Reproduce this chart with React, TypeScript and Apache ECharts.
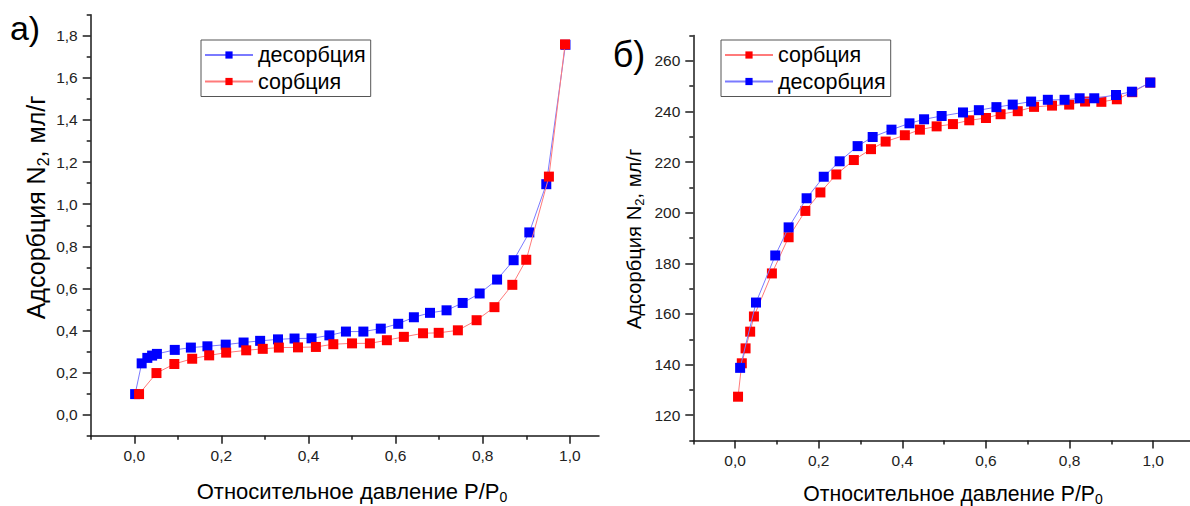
import React, { useEffect, useRef } from "react";
import * as echarts from "echarts";

// ---- Chart a) ----
const aDesX = [0.002, 0.017, 0.030, 0.041, 0.052, 0.093, 0.130, 0.168, 0.210, 0.251, 0.289, 0.330, 0.368, 0.407, 0.448, 0.486, 0.526, 0.566, 0.606, 0.642, 0.679, 0.717, 0.754, 0.793, 0.833, 0.871, 0.907, 0.946, 0.990];
const aDesY = [0.098, 0.244, 0.270, 0.281, 0.289, 0.308, 0.319, 0.325, 0.333, 0.343, 0.351, 0.358, 0.362, 0.363, 0.377, 0.395, 0.395, 0.409, 0.432, 0.463, 0.484, 0.496, 0.531, 0.576, 0.642, 0.734, 0.866, 1.095, 1.757];
const aSorX = [0.011, 0.051, 0.092, 0.133, 0.172, 0.211, 0.257, 0.295, 0.332, 0.376, 0.417, 0.457, 0.500, 0.541, 0.580, 0.619, 0.663, 0.699, 0.743, 0.786, 0.827, 0.868, 0.900, 0.952, 0.989];
const aSorY = [0.098, 0.198, 0.241, 0.266, 0.282, 0.295, 0.306, 0.313, 0.319, 0.320, 0.322, 0.335, 0.339, 0.339, 0.354, 0.370, 0.387, 0.389, 0.401, 0.449, 0.511, 0.617, 0.736, 1.131, 1.759];

// ---- Chart б) ----
const bSorX = [0.007, 0.016, 0.025, 0.036, 0.045, 0.088, 0.128, 0.168, 0.204, 0.242, 0.284, 0.325, 0.360, 0.406, 0.442, 0.482, 0.521, 0.560, 0.600, 0.635, 0.676, 0.715, 0.758, 0.799, 0.837, 0.876, 0.913, 0.950, 0.993];
const bSorY = [127.3, 140.5, 146.4, 153.0, 159.0, 176.0, 190.3, 200.7, 208.0, 215.1, 220.8, 225.1, 228.1, 230.6, 232.8, 234.1, 235.0, 236.5, 237.4, 238.9, 240.1, 241.8, 242.3, 242.7, 243.9, 243.8, 244.8, 247.6, 251.4];
const bDesX = [0.012, 0.050, 0.096, 0.128, 0.171, 0.212, 0.250, 0.293, 0.329, 0.374, 0.417, 0.452, 0.494, 0.545, 0.583, 0.625, 0.664, 0.708, 0.748, 0.788, 0.824, 0.859, 0.911, 0.949, 0.993];
const bDesY = [138.7, 164.5, 183.1, 194.2, 205.7, 214.2, 220.3, 226.3, 229.9, 232.8, 235.3, 236.9, 238.2, 239.6, 240.5, 241.7, 242.7, 243.9, 244.6, 244.6, 245.2, 245.2, 246.5, 247.8, 251.4];

// ---- Ticks ----
const xMajor = [0, 0.2, 0.4, 0.6, 0.8, 1.0];
const xMinor = [-0.1, 0.1, 0.3, 0.5, 0.7, 0.9];
const aYMajor = [0, 0.2, 0.4, 0.6, 0.8, 1.0, 1.2, 1.4, 1.6, 1.8];
const aYMinor = [-0.1, 0.1, 0.3, 0.5, 0.7, 0.9, 1.1, 1.3, 1.5, 1.7, 1.9];
const bYMajor = [120, 140, 160, 180, 200, 220, 240, 260];
const bYMinor = [110, 130, 150, 170, 190, 210, 230, 250, 270];

const SOR = "сорбция";
const DES = "десорбция";
const FONT = "Liberation Sans, Arial, sans-serif";
const AXIS_COLOR = "#1a1a1a";

const zip = (xs: number[], ys: number[]) => xs.map((x, i) => [x, ys[i]]);
const comma = (v: number) => v.toFixed(1).replace(".", ",");

function majorAxis(dim: "x" | "y", gridIndex: number, min: number, max: number, ticks: number[], fmt: (v: number) => string, margin: number) {
  return {
    type: "value",
    gridIndex,
    position: dim === "x" ? "bottom" : "left",
    min,
    max,
    splitLine: { show: false },
    axisLine: { show: true, onZero: false, lineStyle: { color: AXIS_COLOR, width: 1.5 } },
    axisTick: { show: true, inside: false, length: 8, customValues: ticks, lineStyle: { color: AXIS_COLOR, width: 1.5 } },
    axisLabel: {
      show: true,
      customValues: ticks,
      formatter: (v: number) => fmt(v),
      margin,
      fontFamily: FONT,
      fontSize: 15.5,
      color: "#222",
    },
  };
}

function minorAxis(dim: "x" | "y", gridIndex: number, min: number, max: number, ticks: number[]) {
  return {
    type: "value",
    gridIndex,
    position: dim === "x" ? "bottom" : "left",
    offset: 0,
    min,
    max,
    splitLine: { show: false },
    axisLine: { show: false, onZero: false },
    axisTick: { show: true, inside: false, length: 4, customValues: ticks, lineStyle: { color: AXIS_COLOR, width: 1.5 } },
    axisLabel: { show: false },
  };
}

function series(name: string, xs: number[], ys: number[], xi: number, yi: number, blue: boolean, z: number) {
  return {
    type: "line",
    name,
    xAxisIndex: xi,
    yAxisIndex: yi,
    data: zip(xs, ys),
    symbol: "rect",
    symbolSize: 10,
    z,
    itemStyle: { color: blue ? "#0000ff" : "#ff0000" },
    lineStyle: { color: blue ? "#7a7aff" : "#ff7a7a", width: 1 },
    emphasis: { disabled: true },
  };
}

function titleText(text: string, x: number, y: number, rotate: boolean, size: number) {
  const subSize = Math.round(size * 0.64);
  return {
    type: "text",
    x,
    y,
    rotation: rotate ? Math.PI / 2 : 0,
    style: {
      text,
      fontFamily: FONT,
      fontSize: size,
      lineHeight: Math.round(size * 1.05),
      fill: "#000",
      align: "center",
      verticalAlign: "middle",
      rich: {
        sub: {
          fontSize: subSize,
          fontFamily: FONT,
          fill: "#000",
          verticalAlign: "middle",
          lineHeight: subSize,
          padding: [Math.round(size * 0.55), 0, 0, 0],
        },
      },
    },
  };
}

export default function App() {
  const ref = useRef<HTMLDivElement>(null);
  useEffect(() => {
    if (!ref.current) return;
    const chart = echarts.init(ref.current, null, { renderer: "svg" });
    const legendCommon = {
      orient: "vertical",
      itemWidth: 48,
      itemHeight: 9,
      itemGap: 4.5,
      padding: [4, 5, 4, 3],
      borderColor: "#555",
      borderWidth: 1,
      backgroundColor: "#fff",
      selectedMode: false,
      textStyle: { fontFamily: FONT, fontSize: 21.5, lineHeight: 22, color: "#000" },
    };
    chart.setOption({
      animation: false,
      backgroundColor: "#fff",
      grid: [
        { left: 90.7, top: 14.7, width: 508.3, height: 421.1, containLabel: false },
        { left: 693.3, top: 35.5, width: 496.7, height: 405, containLabel: false },
      ],
      xAxis: [
        majorAxis("x", 0, -0.1, 1.067, xMajor, comma, 12),
        minorAxis("x", 0, -0.1, 1.067, xMinor),
        majorAxis("x", 1, -0.1, 1.088, xMajor, comma, 12),
        minorAxis("x", 1, -0.1, 1.088, xMinor),
      ],
      yAxis: [
        majorAxis("y", 0, -0.1, 1.9, aYMajor, comma, 13),
        minorAxis("y", 0, -0.1, 1.9, aYMinor),
        majorAxis("y", 1, 110, 270, bYMajor, (v) => String(Math.round(v)), 13),
        minorAxis("y", 1, 110, 270, bYMinor),
      ],
      legend: [
        { ...legendCommon, left: 201, top: 40, data: [DES, SOR] },
        { ...legendCommon, left: 721, top: 40, data: [SOR, DES] },
      ],
      series: [
        series(DES, aDesX, aDesY, 0, 0, true, 2),
        series(SOR, aSorX, aSorY, 0, 0, false, 3),
        series(SOR, bSorX, bSorY, 2, 2, false, 2),
        series(DES, bDesX, bDesY, 2, 2, true, 3),
      ],
      graphic: [
        { type: "text", x: 25, y: 28, style: { text: "а)", fontFamily: FONT, fontSize: 34, fill: "#000", align: "center", verticalAlign: "middle" } },
        { type: "text", x: 629, y: 54, style: { text: "б)", fontFamily: FONT, fontSize: 36, fill: "#000", align: "center", verticalAlign: "middle" } },
        titleText("Адсорбция N{sub|2}, мл/г", 36, 207.5, true, 25),
        titleText("Адсорбция N{sub|2}, мл/г", 634, 239, true, 20.2),
        titleText("Относительное давление P/P{sub|0}", 352, 491, false, 22),
        titleText("Относительное давление P/P{sub|0}", 953, 493, false, 21.2),
      ],
    });
    return () => chart.dispose();
  }, []);
  return <div ref={ref} style={{ position: "fixed", left: 0, top: 0, width: 1190, height: 506 }} />;
}
